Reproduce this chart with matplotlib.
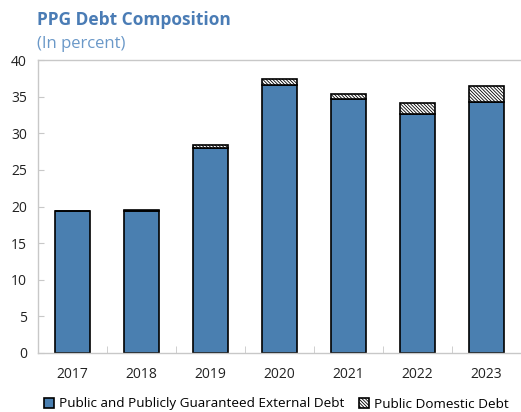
import matplotlib
matplotlib.use("Agg")
import matplotlib.pyplot as plt
import numpy as np

years = ["2017", "2018", "2019", "2020", "2021", "2022", "2023"]
external = [19.4, 19.4, 28.0, 36.6, 34.7, 32.6, 34.3]
domestic = [0.05, 0.15, 0.4, 0.75, 0.6, 1.5, 2.2]

plt.rcParams["font.family"] = ["Open Sans", "DejaVu Sans"]
plt.rcParams["hatch.linewidth"] = 0.6

W, H = 521, 412
fig = plt.figure(figsize=(W / 100, H / 100), dpi=100)
ax = fig.add_axes([38 / W, (H - 353) / H, 483 / W, 293 / H])

x = np.arange(len(years))
blue = "#4a7fb0"
ax.bar(x, external, width=0.52, color=blue, edgecolor="black", linewidth=1.2,
       label="Public and Publicly Guaranteed External Debt")
ax.bar(x, domestic, width=0.52, bottom=external, color="white", edgecolor="black",
       linewidth=1.2, hatch="\\" * 10, label="Public Domestic Debt")

ax.set_xlim(-0.5, len(years) - 0.5)
ax.set_ylim(0, 40)
ax.set_yticks(range(0, 41, 5))
ax.set_xticks(x)
ax.set_xticklabels(years)
ax.set_xticks(np.arange(-0.5, len(years)), minor=True)

for s in ["left", "top", "bottom"]:
    ax.spines[s].set_color("#c8c8c8")
    ax.spines[s].set_linewidth(1)
ax.spines["right"].set_visible(False)

ax.tick_params(axis="y", direction="in", length=4, color="#c8c8c8",
               labelsize=10, labelcolor="#222222", pad=8)
ax.tick_params(axis="x", which="major", length=0, labelsize=10,
               labelcolor="#222222", pad=10)
ax.tick_params(axis="x", which="minor", direction="in", length=5, color="#c8c8c8")

fig.text(37 / W, 1 - 20 / H, "PPG Debt Composition", fontsize=12.5,
         fontweight="bold", color="#4a7cb5", va="center")
fig.text(37 / W, 1 - 44 / H, "(In percent)", fontsize=12,
         color="#6a98c8", va="center")

leg = fig.legend(loc="center", bbox_to_anchor=(276 / W, 1 - 404 / H), ncol=2,
                 frameon=False, fontsize=9.7, handlelength=0.8, handleheight=0.8,
                 handletextpad=0.3, columnspacing=1.1)

fig.savefig("out.png", dpi=100)
